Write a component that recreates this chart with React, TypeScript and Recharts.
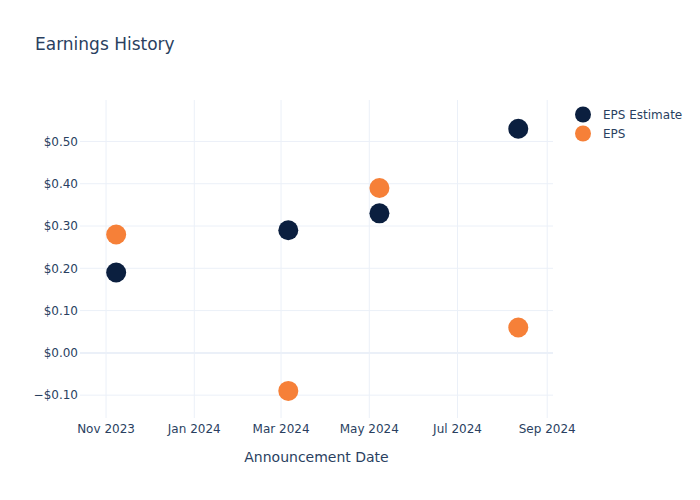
import { ReferenceLine, Scatter, ScatterChart, XAxis, YAxis } from 'recharts';

const announceDates = ['2023-11-08', '2024-03-06', '2024-05-08', '2024-08-12'];
const epsEstimate = [0.19, 0.29, 0.33, 0.53];
const epsActual = [0.28, -0.09, 0.39, 0.06];

const xTickDates = ['2023-11-01', '2024-01-01', '2024-03-01', '2024-05-01', '2024-07-01', '2024-09-01'];
const yTicks = [-0.1, 0, 0.1, 0.2, 0.3, 0.4, 0.5];

const MONTHS = ['Jan', 'Feb', 'Mar', 'Apr', 'May', 'Jun', 'Jul', 'Aug', 'Sep', 'Oct', 'Nov', 'Dec'];
const TEXT = '#2a3f5f';
const GRID = '#EBF0F8';
const NAVY = '#0b1f3f';
const ORANGE = '#f68038';
const FONT = '"DejaVu Sans", sans-serif';

const toTs = (d: string) => Date.parse(d + 'T00:00:00Z');

const estimateData = announceDates.map((d, i) => ({ x: toTs(d), y: epsEstimate[i] }));
const actualData = announceDates.map((d, i) => ({ x: toTs(d), y: epsActual[i] }));
const xTicks = xTickDates.map(toTs);

const fmtDate = (v: number) => {
    const d = new Date(v);
    return `${MONTHS[d.getUTCMonth()]} ${d.getUTCFullYear()}`;
};
const fmtMoney = (v: number) => (v < 0 ? `\u2212$${Math.abs(v).toFixed(2)}` : `$${v.toFixed(2)}`);

const dot = (color: string) => (props: any) => <circle cx={props.cx} cy={props.cy} r={10} fill={color} />;

function LegendBox() {
    const items = [
        { name: 'EPS Estimate', color: NAVY },
        { name: 'EPS', color: ORANGE },
    ];
    return (
        <div style={{ position: 'absolute', left: 573, top: 105, fontFamily: FONT, fontSize: 12, color: TEXT }}>
            {items.map((it) => (
                <div key={it.name} style={{ display: 'flex', alignItems: 'center', height: 19 }}>
                    <svg width={20} height={19}>
                        <circle cx={10} cy={9.5} r={8} fill={it.color} />
                    </svg>
                    <span style={{ marginLeft: 10 }}>{it.name}</span>
                </div>
            ))}
        </div>
    );
}

export default function App() {
    return (
        <div style={{ position: 'absolute', left: 0, top: 0, width: 700, height: 500, background: '#fff' }}>
            <div style={{ position: 'absolute', left: 35, top: 34, fontFamily: FONT, fontSize: 17, color: TEXT }}>
                Earnings History
            </div>
            <ScatterChart width={700} height={500} margin={{ top: 100, right: 147, left: 0, bottom: 52 }}>
                <XAxis
                    type="number"
                    dataKey="x"
                    domain={[toTs('2023-10-14'), toTs('2024-09-05')]}
                    ticks={xTicks}
                    tickFormatter={fmtDate}
                    axisLine={false}
                    tickLine={false}
                    tickSize={0}
                    tickMargin={6}
                    height={30}
                    tick={{ fill: TEXT, fontSize: 12, fontFamily: FONT }}
                    label={{ value: 'Announcement Date', position: 'bottom', offset: 4, fill: TEXT, fontSize: 14, fontFamily: FONT }}
                />
                <YAxis
                    type="number"
                    dataKey="y"
                    domain={[-0.154, 0.598]}
                    ticks={yTicks}
                    tickFormatter={fmtMoney}
                    axisLine={false}
                    tickLine={false}
                    tickSize={0}
                    tickMargin={2}
                    width={80}
                    tick={{ fill: TEXT, fontSize: 12, fontFamily: FONT }}
                />
                {xTicks.map((t) => (
                    <ReferenceLine key={`vx${t}`} x={t} stroke={GRID} strokeWidth={1} />
                ))}
                {yTicks.map((t) => (
                    <ReferenceLine key={`hy${t}`} y={t} stroke={GRID} strokeWidth={t === 0 ? 2 : 1} />
                ))}
                <Scatter name="EPS Estimate" data={estimateData} fill={NAVY} shape={dot(NAVY)} isAnimationActive={false} />
                <Scatter name="EPS" data={actualData} fill={ORANGE} shape={dot(ORANGE)} isAnimationActive={false} />
            </ScatterChart>
            <LegendBox />
        </div>
    );
}
